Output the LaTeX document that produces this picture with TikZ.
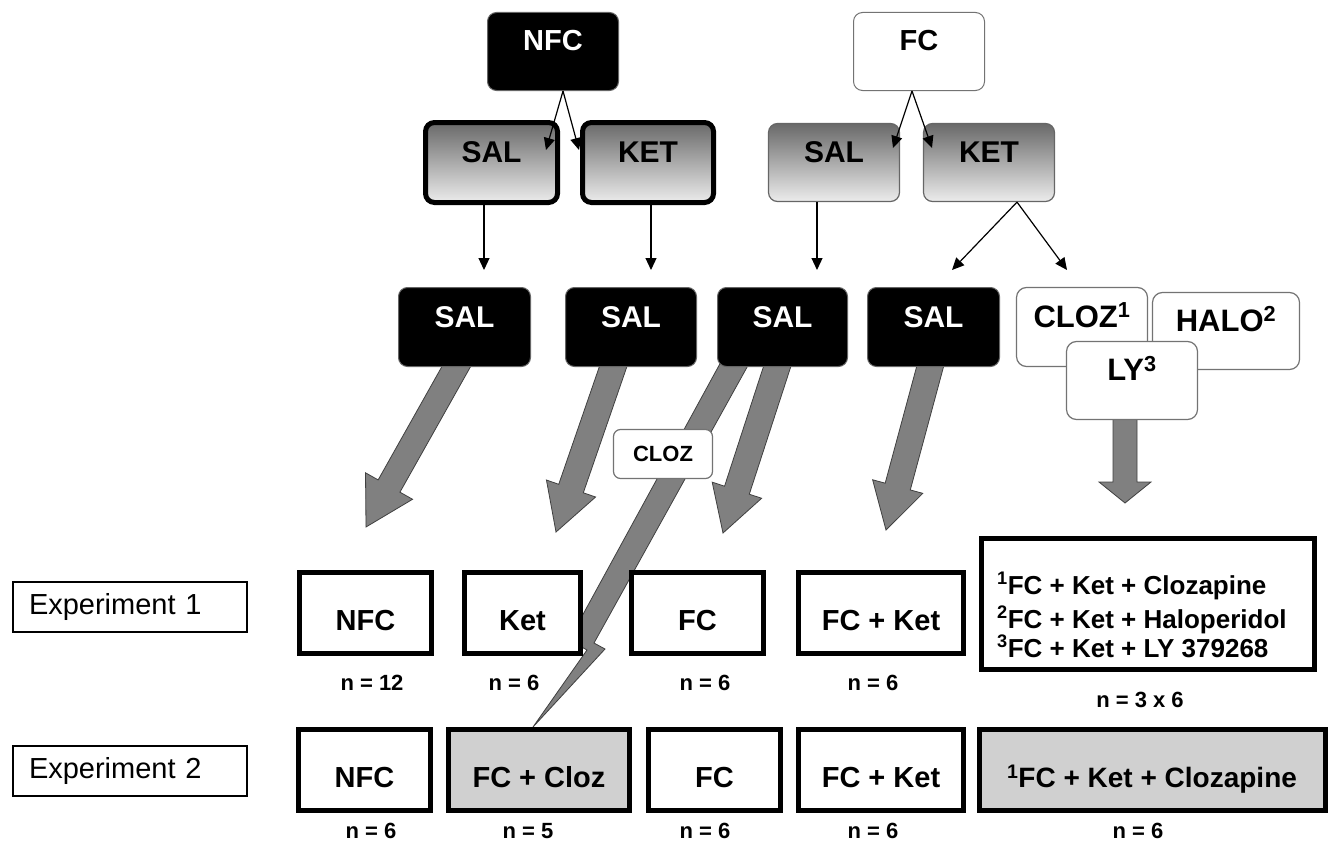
\documentclass[tikz,border=0pt]{standalone}
\usepackage{fontspec}
\setmainfont{Liberation Sans}
\usetikzlibrary{arrows.meta,calc}
\definecolor{gtop}{RGB}{105,105,105}
\definecolor{gbot}{RGB}{236,236,236}
\definecolor{arrfill}{RGB}{128,128,128}
\definecolor{resgray}{RGB}{208,208,208}
\pgfdeclarelayer{background}
\pgfsetlayers{background,main}
\newcommand\blkarrow[5]{%
  \path ($(#1)!-20pt!(#2)$) coordinate (ba-s) (#2) coordinate (ba-t);
  \path ($(ba-t)!#5!(ba-s)$) coordinate (ba-h);
  \filldraw[bigarrow] ($(ba-s)!#3!90:(ba-t)$) -- ($(ba-h)!#3!90:(ba-t)$) -- ($(ba-h)!#4!90:(ba-t)$) -- (ba-t)
    -- ($(ba-h)!#4!-90:(ba-t)$) -- ($(ba-h)!#3!-90:(ba-t)$) -- ($(ba-s)!#3!-90:(ba-t)$) -- cycle;}
\begin{document}
\begin{tikzpicture}[x=1pt,y=-1pt,
  f30/.style={font=\bfseries\fontsize{30pt}{32pt}\selectfont},
  f29/.style={font=\bfseries\fontsize{29pt}{31pt}\selectfont},
  topblk/.style={fill=black,draw=black!60,line width=1pt,rounded corners=9pt,text=white,
     font=\bfseries\fontsize{29pt}{31pt}\selectfont,text height=21pt,text depth=23pt,
     minimum width=131pt,minimum height=78pt,inner sep=0pt},
  topwht/.style={topblk,fill=white,draw=black!55,text=black},
  gradN/.style={shade,top color=gtop,bottom color=gbot,draw=black,line width=5pt,rounded corners=9pt,
     f30,text height=21.5pt,text depth=21.5pt,minimum width=132pt,minimum height=80pt,inner sep=0pt},
  gradF/.style={gradN,draw=black!60,line width=1.2pt,minimum width=131pt,minimum height=78pt},
  blk/.style={fill=black,draw=black!60,line width=1pt,rounded corners=9pt,text=white,f30,
     text height=21.5pt,text depth=21.5pt,minimum height=79pt,inner sep=0pt},
  drug/.style={fill=white,draw=black!55,line width=1.2pt,rounded corners=10pt,
     font=\bfseries\fontsize{31pt}{33pt}\selectfont,
     text height=22pt,text depth=22pt,inner sep=0pt},
  drugsm/.style={fill=white,draw=black!55,line width=1.2pt,rounded corners=7pt,
     font=\bfseries\fontsize{22pt}{24pt}\selectfont,minimum width=99pt,minimum height=49pt,inner sep=0pt},
  res/.style={draw=black,line width=5pt,fill=white,f29,text height=35pt,text depth=0pt,
     minimum height=81pt,inner sep=0pt},
  resg/.style={res,fill=resgray},
  explbl/.style={draw=black,line width=2pt,fill=white,font=\fontsize{29pt}{31pt}\selectfont,
     minimum height=50pt,text width=202pt,inner xsep=16pt,align=left},
  nlbl/.style={font=\bfseries\fontsize{22pt}{24pt}\selectfont,anchor=base,inner sep=0pt},
  biglbl/.style={font=\bfseries\fontsize{26pt}{28pt}\selectfont,anchor=base west,inner sep=0pt},
  bigarrow/.style={fill=arrfill,draw=black!75,line width=0.8pt,line join=miter},
  thinarr/.style={draw=black,line width=1.2pt,-{Triangle[length=12pt,width=11pt]}}
]
\useasboundingbox (0,0) rectangle (1333,843);

% top row
\node[topblk] (nfctop) at (553,51.5) {NFC};
\node[topwht] (fctop) at (919,51.5) {FC};

% gradient row
\node[gradN] (salN) at (491.5,162.5) {SAL};
\node[gradN,minimum width=131pt] (ketN) at (648,162.5) {KET};
\node[gradF] (salF) at (834,162.5) {SAL};
\node[gradF] (ketF) at (989,162.5) {KET};

% black SAL row
\node[blk,minimum width=132pt] (s1) at (464.5,327) {SAL};
\node[blk,minimum width=131pt] (s2) at (631,327) {SAL};
\node[blk,minimum width=130pt] (s3) at (782.5,327) {SAL};
\node[blk,minimum width=132pt] (s4) at (933.5,327) {SAL};

% drug boxes
\node[drug,minimum width=131pt,minimum height=79pt] (cloz) at (1082,327) {CLOZ\textsuperscript{1}};
\node[drug,minimum width=147pt,minimum height=77pt] (halo) at (1226,331) {HALO\textsuperscript{2}};
\node[drug,minimum width=131pt,minimum height=78pt] (ly) at (1132,380.5) {LY\textsuperscript{3}};

% small CLOZ box
\node[drugsm] (clozs) at (663,454) {CLOZ};

% experiment labels
\node[explbl] (ex1) at (130,607) {Experiment 1};
\node[explbl] (ex2) at (130,771) {Experiment 2};

% experiment 1 results
\node[res,minimum width=132pt] (e1a) at (365.5,613) {NFC};
\node[res,minimum width=116pt] (e1b) at (522.5,613) {Ket};
\node[res,minimum width=132pt] (e1c) at (697.5,613) {FC};
\node[res,minimum width=165pt] (e1d) at (881,613) {FC + Ket};
\node[res,minimum width=333pt,minimum height=131pt] (e1e) at (1148,604) {};
\node[biglbl] (bl1) at (997,594) {\textsuperscript{1}FC + Ket + Clozapine};
\node[biglbl] (bl2) at (997,628) {\textsuperscript{2}FC + Ket + Haloperidol};
\node[biglbl] (bl3) at (997,657) {\textsuperscript{3}FC + Ket + LY 379268};

% experiment 2 results
\node[res,minimum width=132pt] (e2a) at (364.5,770) {NFC};
\node[resg,minimum width=181pt] (e2b) at (539,770) {FC + Cloz};
\node[res,minimum width=132pt] (e2c) at (714.5,770) {FC};
\node[res,minimum width=165pt] (e2d) at (881,770) {FC + Ket};
\node[resg,minimum width=346pt,font=\bfseries\fontsize{28pt}{30pt}\selectfont] (e2e) at (1152,770) {\textsuperscript{1}FC + Ket + Clozapine};

% n labels
\node[nlbl] (n1a) at (372,690) {n = 12};
\node[nlbl] (n1b) at (514,690) {n = 6};
\node[nlbl] (n1c) at (705,690) {n = 6};
\node[nlbl] (n1d) at (873,690) {n = 6};
\node[nlbl] (n1e) at (1140,707) {n = 3 x 6};
\node[nlbl] (n2a) at (371,838) {n = 6};
\node[nlbl] (n2b) at (528,838) {n = 5};
\node[nlbl] (n2c) at (705,838) {n = 6};
\node[nlbl] (n2d) at (873,838) {n = 6};
\node[nlbl] (n2e) at (1138,838) {n = 6};

% block arrows (behind)
\coordinate (a1s) at ($(s1.south)+(-8.5,0)$);
\coordinate (a1t) at (366,527);
\coordinate (a2s) at ($(s2.south)+(-18,0)$);
\coordinate (a2t) at (556,532);
\coordinate (a3s) at ($(s3.south)+(-5.5,0)$);
\coordinate (a3t) at (723,533);
\coordinate (a4s) at ($(s4.south)+(-3.5,0)$);
\coordinate (a4t) at (886,530);
\coordinate (a5s) at ($(ly.south)+(-7,0)$);
\coordinate (a5t) at (1125,503);
\coordinate (bA) at (722,360);
\coordinate (bB) at (751,360);
\coordinate (bN) at (594,643);
\coordinate (bS) at (605,649);
\coordinate (bT) at ($(e2b.north)+(-6,0)$);
\coordinate (bK2) at (587,650);
\coordinate (bK1) at (569,640);
\begin{pgfonlayer}{background}
  \blkarrow{a1s}{a1t}{12.5pt}{27pt}{47pt}
  \blkarrow{a2s}{a2t}{13pt}{26pt}{46pt}
  \blkarrow{a3s}{a3t}{13pt}{26pt}{45pt}
  \blkarrow{a4s}{a4t}{13pt}{26pt}{45pt}
  \blkarrow{a5s}{a5t}{12pt}{26pt}{21pt}
  \filldraw[bigarrow] (bA) -- (bB) -- (bN) -- (bS) -- (bT) -- (bK2) -- (bK1) -- cycle;
\end{pgfonlayer}

% thin arrows
\coordinate (tNs) at (546,150);
\coordinate (tNk) at (579,150);
\coordinate (tFs) at (893,148);
\coordinate (tFk) at (932,148);
\coordinate (v1) at (484,270);
\coordinate (v2) at (651,270);
\coordinate (v3) at (817,270);
\coordinate (v4) at (952,270);
\coordinate (v5) at (1067,270);
\draw[thinarr] ($(nfctop.south)+(10,0)$) -- (tNs);
\draw[thinarr] ($(nfctop.south)+(10,0)$) -- (tNk);
\draw[thinarr] ($(fctop.south)+(-7,0)$) -- (tFs);
\draw[thinarr] ($(fctop.south)+(-7,0)$) -- (tFk);
\draw[thinarr] ($(salN.south)+(-7.5,0)$) -- (v1);
\draw[thinarr] ($(ketN.south)+(3,0)$) -- (v2);
\draw[thinarr] ($(salF.south)+(-17,0)$) -- (v3);
\draw[thinarr] ($(ketF.south)+(28,0)$) -- (v4);
\draw[thinarr] ($(ketF.south)+(28,0)$) -- (v5);
\end{tikzpicture}
\end{document}
